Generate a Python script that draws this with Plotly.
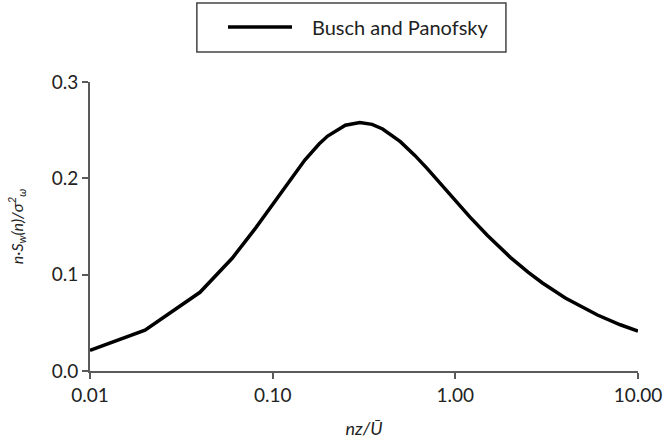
import plotly.graph_objects as go

# nz/U values and normalized spectrum values
x_vals = [0.01, 0.02, 0.04, 0.06, 0.08, 0.10, 0.12, 0.15, 0.18, 0.20, 0.25, 0.30, 0.35,
          0.40, 0.50, 0.60, 0.70, 0.80, 1.0, 1.2, 1.5, 2.0, 2.5, 3.0, 4.0, 5.0, 6.0, 8.0, 10.0]
y_vals = [0.0214, 0.0423, 0.0817, 0.117, 0.1475, 0.1733, 0.1946, 0.219, 0.2359, 0.2439,
          0.2551, 0.258, 0.2560, 0.2512, 0.2381, 0.2238, 0.2103, 0.1978, 0.1768, 0.160,
          0.1406, 0.118, 0.1026, 0.0914, 0.0758, 0.0655, 0.0581, 0.048, 0.0414]
series_name = "Busch and Panofsky"
x_ticks = [0.01, 0.1, 1, 10]
x_ticktext = ["0.01", "0.10", "1.00", "10.00"]
y_ticks = [0.0, 0.1, 0.2, 0.3]
y_ticktext = ["0.0", "0.1", "0.2", "0.3"]

FONT = "Lato, 'Open Sans', sans-serif"
AXC = "#5a5a5a"
LINEC = "black"

fig = go.Figure()
fig.add_trace(go.Scatter(x=x_vals, y=y_vals, mode="lines", name=series_name,
                         line=dict(color=LINEC, width=3.5), showlegend=False))

fig.update_layout(
    width=665, height=445,
    margin=dict(l=90, r=27, t=82, b=74),
    paper_bgcolor="white", plot_bgcolor="white",
    font=dict(family=FONT, size=19, color="#222"),
    showlegend=False,
    xaxis=dict(type="log", range=[-2, 1], tickvals=x_ticks, ticktext=x_ticktext,
               automargin=False,
               showgrid=False, zeroline=False, showline=True, linecolor=AXC, linewidth=2,
               ticks="outside", ticklen=6, tickwidth=2, tickcolor=AXC,
               tickfont=dict(size=19),
               title=dict(text="<i>nz/Ū</i>", standoff=18, font=dict(size=18))),
    yaxis=dict(range=[0, 0.3], tickvals=y_ticks, ticktext=y_ticktext,
               automargin=False,
               showgrid=False, zeroline=False, showline=True, linecolor=AXC, linewidth=2,
               ticks="outside", ticklen=6, tickwidth=2, tickcolor=AXC,
               tickfont=dict(size=19),
               title=dict(text="<i>n·S<sub>w</sub>(n)/σ<sup>2</sup><sub>ω</sub></i>",
                          standoff=24, font=dict(size=16))),
    shapes=[
        dict(type="rect", xref="paper", yref="paper",
             x0=0.195, x1=0.759, y0=1.104, y1=1.273,
             line=dict(color="#444", width=1.5), fillcolor="rgba(0,0,0,0)"),
        dict(type="line", xref="paper", yref="paper",
             x0=0.2518, x1=0.3686, y0=1.190, y1=1.190,
             line=dict(color=LINEC, width=3.5)),
    ],
    annotations=[
        dict(text=series_name, xref="paper", yref="paper", x=0.4015, y=1.190,
             xanchor="left", yanchor="middle", showarrow=False,
             font=dict(size=20, color="#222")),
    ],
)

fig.write_html("out.html")
